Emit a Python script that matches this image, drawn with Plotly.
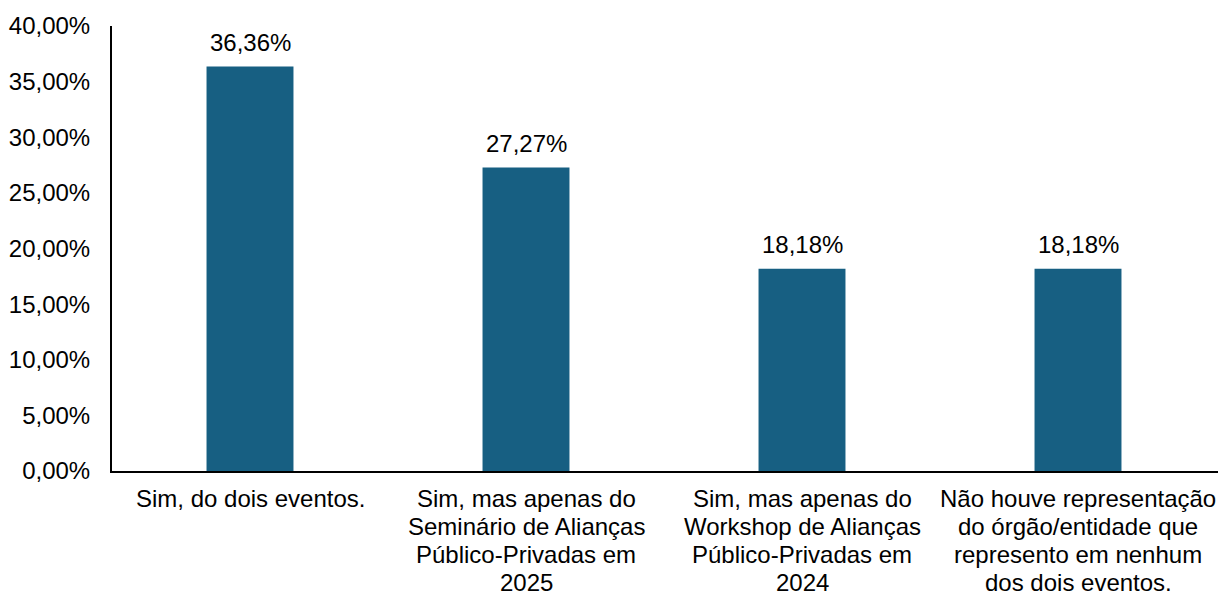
import plotly.graph_objects as go

categories = [
    "Sim, do dois eventos.",
    "Sim, mas apenas do<br>Seminário de Alianças<br>Público-Privadas em<br>2025",
    "Sim, mas apenas do<br>Workshop de Alianças<br>Público-Privadas em<br>2024",
    "Não houve representação<br>do órgão/entidade que<br>represento em nenhum<br>dos dois eventos.",
]
values = [0.3636, 0.2727, 0.1818, 0.1818]
tick_vals = [0, 0.05, 0.10, 0.15, 0.20, 0.25, 0.30, 0.35, 0.40]

FONT = "Liberation Sans, Arial, sans-serif"
COLOR = "#175F82"
FS = 24

fig = go.Figure(go.Bar(x=categories, y=values, marker_color=COLOR, marker_line_width=0))

for c, v in zip(categories, values):
    fig.add_annotation(x=c, y=v, text=f"{v*100:.2f}%".replace(".", ","), showarrow=False,
                       yanchor="bottom", yshift=9, font=dict(size=FS, color="#000", family=FONT))

# category labels, one annotation per line for tighter line spacing
for c in categories:
    for i, line in enumerate(c.split("<br>")):
        fig.add_annotation(x=c, y=0, yref="paper", text=line, showarrow=False,
                           yanchor="middle", yshift=-(27 + 28.3 * i),
                           font=dict(size=FS, color="#000", family=FONT))

fig.update_layout(
    width=1219, height=593,
    margin=dict(l=112, r=1, t=26, b=122),
    paper_bgcolor="white", plot_bgcolor="white",
    separators=",.",
    bargap=0.685,
    showlegend=False,
    font=dict(family=FONT, size=FS, color="#000"),
)
fig.update_xaxes(showline=True, linecolor="#000", linewidth=2, ticks="", showgrid=False,
                 showticklabels=False, automargin=False)
fig.update_yaxes(range=[0, 0.4], tickvals=tick_vals, tickformat=".2%", showline=True,
                 linecolor="#000", linewidth=2, showgrid=False, zeroline=False, ticks="",
                 ticklabelstandoff=15, tickfont=dict(size=FS), automargin=False)

fig.write_html("out.html", config={"displayModeBar": False},
               post_script="document.body.style.margin='0';document.body.style.padding='0';")
